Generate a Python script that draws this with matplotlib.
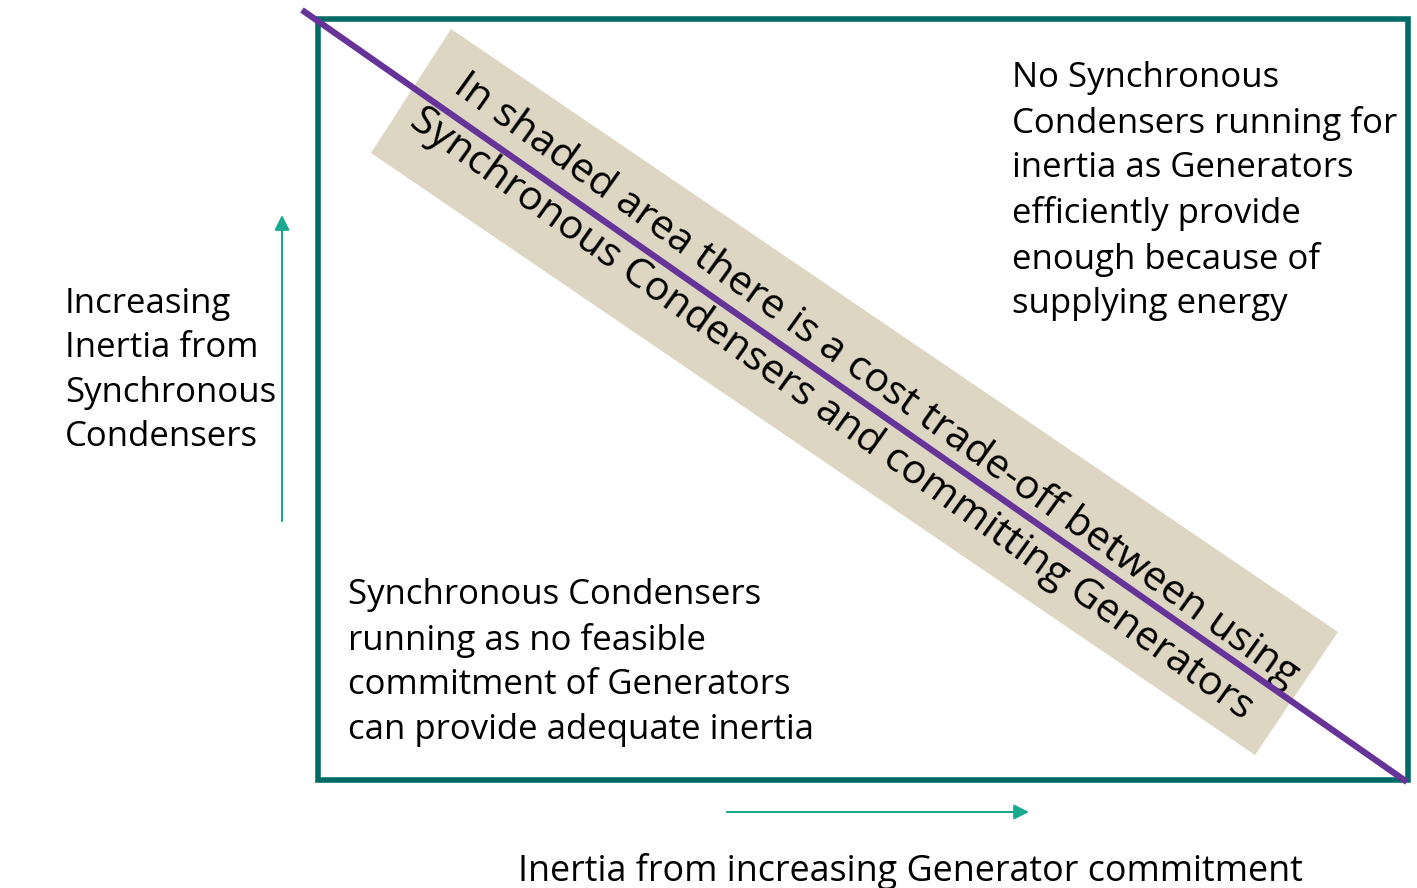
import matplotlib
matplotlib.use("Agg")
import matplotlib.pyplot as plt
from matplotlib.patches import Polygon, Rectangle

# layout in pixel coordinates of the reference (y grows downward)
W, H = 1417, 888
box = [318, 19, 1408, 780]            # left, top, right, bottom
diag = [(302, 10), (1407, 782)]
band = [(451, 29), (1338, 632), (1255, 755), (371, 153)]

band_lines = ["In shaded area there is a cost trade-off between using",
              "Synchronous Condensers and committing Generators"]
band_centres = [(876, 381), (831, 414)]
band_angle = -35.5

top_right = ["No Synchronous", "Condensers running for", "inertia as Generators",
             "efficiently provide", "enough because of", "supplying energy"]
bottom_left = ["Synchronous Condensers", "running as no feasible",
               "commitment of Generators", "can provide adequate inertia"]
left_label = ["Increasing", "Inertia from", "Synchronous", "Condensers"]
bottom_label = "Inertia from increasing Generator commitment"

font = "Open Sans"
fs = 25
ls = 1.4

fig = plt.figure(figsize=(W / 100, H / 100), dpi=100)
ax = fig.add_axes([0, 0, 1, 1])
ax.set_xlim(0, W)
ax.set_ylim(H, 0)
ax.axis("off")

ax.add_patch(Polygon(band, closed=True, facecolor="#ddd6c3", edgecolor="none", zorder=1))
ax.add_patch(Rectangle((box[0], box[1]), box[2] - box[0], box[3] - box[1],
                       fill=False, edgecolor="#006b66", linewidth=4, zorder=2))
ax.plot([p[0] for p in diag], [p[1] for p in diag], color="#663399",
        linewidth=4.5, solid_capstyle="butt", zorder=4)

for txt, (cx, cy) in zip(band_lines, band_centres):
    ax.text(cx, cy, txt, rotation=band_angle, rotation_mode="anchor",
            ha="center", va="center", fontsize=29.5, family=font, zorder=3)

ax.text(1012, 61, "\n".join(top_right), ha="left", va="top", fontsize=fs,
        family=font, linespacing=ls)
ax.text(348, 578, "\n".join(bottom_left), ha="left", va="top", fontsize=fs,
        family=font, linespacing=ls)
ax.text(65, 287, "\n".join(left_label), ha="left", va="top", fontsize=fs,
        family=font, linespacing=ls)
ax.text(518, 871, bottom_label, ha="left", va="center", fontsize=25.8, family=font)

arrow = dict(arrowstyle="-|>,head_length=0.9,head_width=0.45", color="#1aa88e",
             linewidth=1.5, shrinkA=0, shrinkB=0)
ax.annotate("", xy=(282, 215), xytext=(282, 521), arrowprops=arrow)
ax.annotate("", xy=(1029, 812), xytext=(727, 812), arrowprops=arrow)

fig.savefig("out.png", dpi=100)
